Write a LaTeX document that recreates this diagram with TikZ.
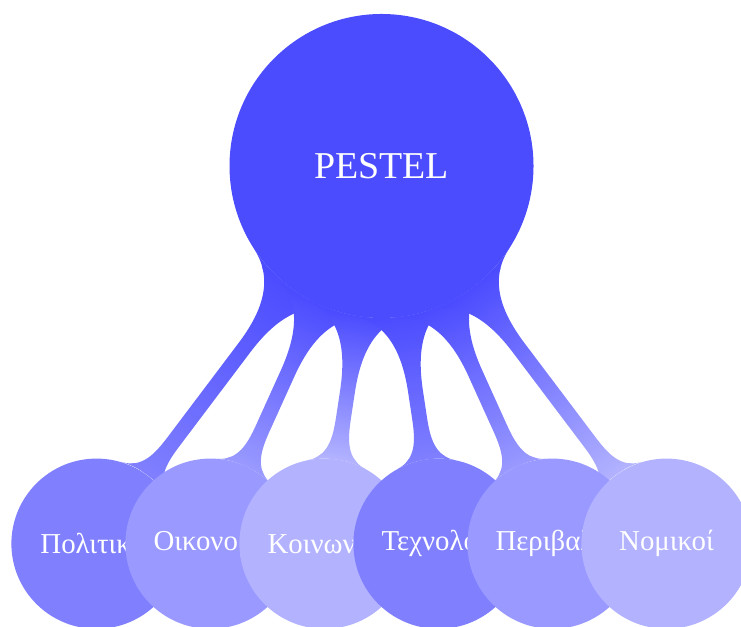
\documentclass[tikz,border=0pt]{standalone}
\usepackage{fontspec}
\setmainfont{Liberation Serif}
\usetikzlibrary{mindmap,backgrounds}
\begin{document}
\begin{tikzpicture}[mindmap,
  rootc/.style={concept, concept color=blue!70, fill=blue!70, draw=none,
    minimum size=4cm, text width=3.5cm, align=center,
    font=\fontsize{14.2}{17}\selectfont, text=white},
  leaf/.style={concept, concept color=#1, fill=#1, draw=none,
    minimum size=2.24cm, text width=1.5cm, align=center,
    font=\fontsize{10.8}{13}\selectfont, text=white},
  cbar/.style={circle connection bar switch color=from (blue!70) to (#1)}]
\useasboundingbox (-5.02,-6.053) rectangle (4.73,2.184);
\node[rootc] (root) at (0,0) {PESTEL};
\node[leaf=blue!50] (c1) at (-3.75,-4.97) {Πολιτικοί};
\node[leaf=blue!40] (c2) at (-2.25,-4.97) {Οικονομικοί};
\node[leaf=blue!30] (c3) at (-0.75,-4.97) {Κοινωνικοί};
\node[leaf=blue!50] (c4) at (0.75,-4.97) {Τεχνολογικοί};
\node[leaf=blue!40] (c5) at (2.25,-4.97) {Περιβαλλοντικοί};
\node[leaf=blue!30] (c6) at (3.75,-4.97) {Νομικοί};
\begin{pgfonlayer}{background}
\path (root) to[cbar=blue!50] (c1);
\path (root) to[cbar=blue!40] (c2);
\path (root) to[cbar=blue!30] (c3);
\path (root) to[cbar=blue!50] (c4);
\path (root) to[cbar=blue!40] (c5);
\path (root) to[cbar=blue!30] (c6);
\end{pgfonlayer}
\end{tikzpicture}
\end{document}
